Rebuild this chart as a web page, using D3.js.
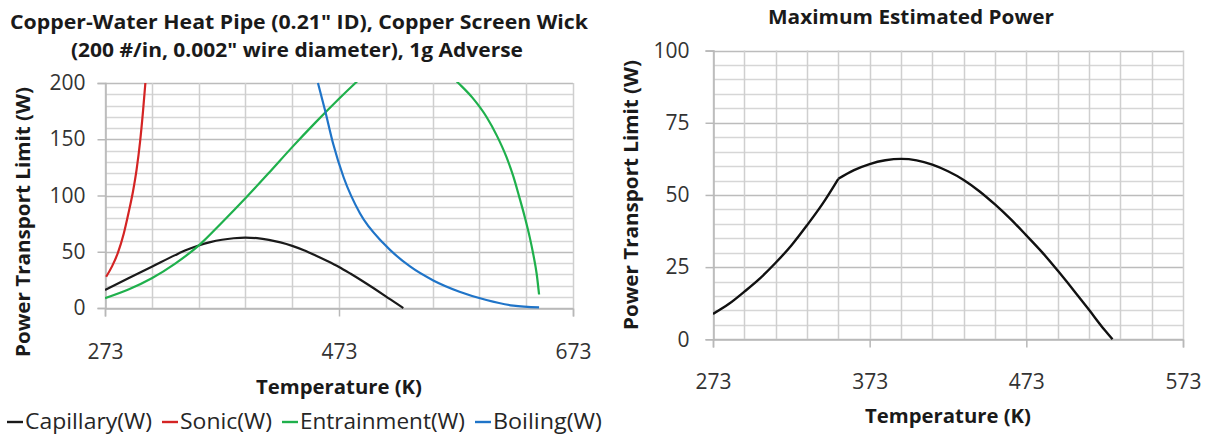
<!DOCTYPE html>
<html>
<head>
<meta charset="utf-8">
<script src="https://cdnjs.cloudflare.com/ajax/libs/d3/7.8.5/d3.min.js"></script>
<style>
  body { margin: 0; background: #fff; }
  svg { display: block; font-family: "Open Sans", sans-serif; }
</style>
</head>
<body>
<div id="chart"></div>
<script>
// heat pipe limits, temperature (K) vs power (W)
var capT = [273, 293, 313, 333, 343, 353, 363, 373, 383, 393, 403, 413, 423, 433, 443, 453, 463, 473, 483, 493, 503, 513, 523, 528];
var capW = [16, 26.5, 36.7, 47, 51.7, 55.6, 58.6, 60.7, 62, 62.6, 62.1, 60.6, 58.3, 55.2, 51.3, 46.7, 41.8, 36.5, 30.4, 24, 17.3, 10.4, 3.4, 0];

var sonT = [274, 279, 284, 289, 293, 297, 300, 303, 305.5, 307.5];
var sonW = [27.8, 37, 49, 66, 84, 104, 123, 148, 175, 200];

var entT = [273, 293, 313, 333, 353, 373, 393, 413, 433, 453, 473, 487, 530, 575, 587, 599, 608, 616, 622, 627, 632, 636, 639, 642, 644];
var entW = [8.8, 16.5, 26.5, 39.5, 55.4, 76, 97.5, 120, 143, 165, 186, 200, 240, 200, 187, 170, 153, 134.5, 117, 99, 80, 63, 48, 30, 12];

var boilT = [455, 461, 468, 477, 491, 511, 534, 554, 576, 599, 622, 644];
var boilW = [200, 176, 146, 116, 84, 57.5, 36.7, 24.3, 14.5, 7.1, 2.1, 0.5];

// maximum estimated power (min of the limits)
var maxT = [273, 283, 293, 303, 313, 323, 333, 343, 353, 363, 373, 383, 393, 403, 413, 423, 433, 443, 453, 463, 473, 483, 493, 503, 513, 523, 528];
var maxW = [8.8, 12.2, 16.5, 21.1, 26.5, 32.5, 39.5, 47, 55.6, 58.6, 60.7, 62, 62.5, 62, 60.5, 58.2, 55.2, 51.3, 46.7, 41.6, 36, 30.2, 23.8, 17.1, 10.2, 3.2, 0];

var leftXTicks = [273, 473, 673];
var leftYTicks = [0, 50, 100, 150, 200];
var rightXTicks = [273, 373, 473, 573];
var rightYTicks = [0, 25, 50, 75, 100];

var seriesNames = ["Capillary(W)", "Sonic(W)", "Entrainment(W)", "Boiling(W)"];
var seriesColors = ["#1a1a1a", "#d42424", "#1fb04c", "#1f74c8"];

var svg = d3.select("#chart").append("svg")
  .attr("width", 1208)
  .attr("height", 438);

function zip(a, b) { return a.map(function(v, i) { return [v, b[i]]; }); }

function panel(o) {
  var x = d3.scaleLinear().domain(o.xDom).range([o.left, o.right]);
  var y = d3.scaleLinear().domain(o.yDom).range([o.bottom, o.top]);
  var g = svg.append("g");

  // minor + major gridlines
  g.selectAll(".hmin").data(d3.range(o.yDom[0], o.yDom[1] + 0.01, o.yMinor))
    .enter().append("line")
    .attr("x1", o.left).attr("x2", o.right)
    .attr("y1", function(d) { return Math.round(y(d)) + 0.5; })
    .attr("y2", function(d) { return Math.round(y(d)) + 0.5; })
    .attr("stroke", function(d) { return o.yTicks.indexOf(d) >= 0 ? "#bcbcbc" : "#d6d6d6"; })
    .attr("stroke-width", 1.5);

  g.selectAll(".vmin").data(d3.range(o.xDom[0], o.xDom[1] + 0.01, o.xMinor))
    .enter().append("line")
    .attr("y1", o.top).attr("y2", o.bottom)
    .attr("x1", function(d) { return Math.round(x(d)) + 0.5; })
    .attr("x2", function(d) { return Math.round(x(d)) + 0.5; })
    .attr("stroke", "#cfcfcf")
    .attr("stroke-width", 1.5);

  // axes
  var xa = g.append("g")
    .attr("transform", "translate(0," + (Math.round(o.bottom) + 0.5) + ")")
    .call(d3.axisBottom(x).tickValues(o.xTicks).tickSize(8).tickPadding(o.xPad).tickFormat(d3.format("d")));
  var ya = g.append("g")
    .attr("transform", "translate(" + (Math.round(o.left) + 0.5) + ",0)")
    .call(d3.axisLeft(y).tickValues(o.yTicks).tickSize(8).tickPadding(o.yPad).tickFormat(d3.format("d")));
  [xa, ya].forEach(function(a) {
    a.select(".domain").attr("stroke", "#b8b8b8").attr("stroke-width", 1.5);
    a.selectAll(".tick line").attr("stroke", "#b8b8b8").attr("stroke-width", 1.5);
    a.selectAll(".tick text").attr("font-size", 21).attr("fill", "#333")
      .attr("font-family", "Open Sans, sans-serif");
  });

  var clipId = "clip" + o.id;
  svg.append("clipPath").attr("id", clipId).append("rect")
    .attr("x", o.left).attr("y", o.top - 1)
    .attr("width", o.right - o.left).attr("height", o.bottom - o.top + 2);

  var line = d3.line()
    .x(function(d) { return x(d[0]); })
    .y(function(d) { return y(d[1]); })
    .curve(d3.curveMonotoneX);

  var lg = svg.append("g").attr("clip-path", "url(#" + clipId + ")");
  o.series.forEach(function(s) {
    lg.append("path")
      .attr("d", line(s.pts))
      .attr("fill", "none")
      .attr("stroke", s.color)
      .attr("stroke-width", s.width || 2.2)
      .attr("stroke-linejoin", "round");
  });

  // axis titles
  svg.append("text")
    .attr("x", (o.left + o.right) / 2).attr("y", o.xTitleY)
    .attr("text-anchor", "middle").attr("dy", "0.35em")
    .attr("font-weight", "bold").attr("font-size", 20).attr("fill", "#1a1a1a")
    .attr("textLength", 166).attr("lengthAdjust", "spacingAndGlyphs")
    .text("Temperature (K)");

  svg.append("text")
    .attr("transform", "translate(" + o.yTitleX + "," + o.yTitleY + ") rotate(-90)")
    .attr("text-anchor", "middle").attr("dy", "0.35em")
    .attr("font-weight", "bold").attr("font-size", 20).attr("fill", "#1a1a1a")
    .attr("textLength", 270).attr("lengthAdjust", "spacingAndGlyphs")
    .text("Power Transport Limit (W)");
}

// left chart
panel({
  id: "L", left: 105, right: 573, top: 83, bottom: 308,
  xDom: [273, 673], yDom: [0, 200], xMinor: 40, yMinor: 10,
  xTicks: leftXTicks, yTicks: leftYTicks, xPad: 28, yPad: 12,
  xTitleY: 387, yTitleX: 23, yTitleY: 222,
  series: [
    { pts: zip(capT, capW), color: seriesColors[0] },
    { pts: zip(sonT, sonW), color: seriesColors[1] },
    { pts: zip(entT, entW), color: seriesColors[2] },
    { pts: zip(boilT, boilW), color: seriesColors[3] }
  ]
});

// right chart (kink where entrainment hands over to capillary)
var kink = maxT.indexOf(353);
var maxPts = zip(maxT, maxW);
panel({
  id: "R", left: 713, right: 1183, top: 50.6, bottom: 339.3,
  xDom: [273, 573], yDom: [0, 100], xMinor: 20, yMinor: 5,
  xTicks: rightXTicks, yTicks: rightYTicks, xPad: 27, yPad: 16,
  xTitleY: 416, yTitleX: 631, yTitleY: 195,
  series: [
    { pts: maxPts.slice(0, kink + 1), color: "#111", width: 2.4 },
    { pts: maxPts.slice(kink), color: "#111", width: 2.4 }
  ]
});

// titles
var titleLines = [
  { text: "Copper-Water Heat Pipe (0.21\" ID), Copper Screen Wick", x: 299, y: 21.5, len: 578 },
  { text: "(200 #/in, 0.002\" wire diameter), 1g Adverse", x: 297, y: 50, len: 452 },
  { text: "Maximum Estimated Power", x: 911, y: 17, len: 286 }
];
svg.selectAll(".title").data(titleLines).enter().append("text")
  .attr("x", function(d) { return d.x; })
  .attr("y", function(d) { return d.y; })
  .attr("dy", "0.35em")
  .attr("text-anchor", "middle")
  .attr("font-weight", "bold").attr("font-size", 20).attr("fill", "#1a1a1a")
  .attr("textLength", function(d) { return d.len; })
  .attr("lengthAdjust", "spacingAndGlyphs")
  .text(function(d) { return d.text; });

// legend
var legendX = [7, 162, 282, 475];
var legendLen = [127, 92, 165, 109];
var leg = svg.selectAll(".leg").data(seriesNames).enter().append("g")
  .attr("transform", function(d, i) { return "translate(" + legendX[i] + ",422)"; });
leg.append("line")
  .attr("x1", 0).attr("x2", 16).attr("y1", 0).attr("y2", 0)
  .attr("stroke", function(d, i) { return seriesColors[i]; })
  .attr("stroke-width", 2.4);
leg.append("text")
  .attr("x", 18).attr("dy", "0.35em")
  .attr("font-size", 21).attr("fill", "#262626")
  .attr("textLength", function(d, i) { return legendLen[i]; })
  .attr("lengthAdjust", "spacingAndGlyphs")
  .text(function(d) { return d; });
</script>
</body>
</html>
